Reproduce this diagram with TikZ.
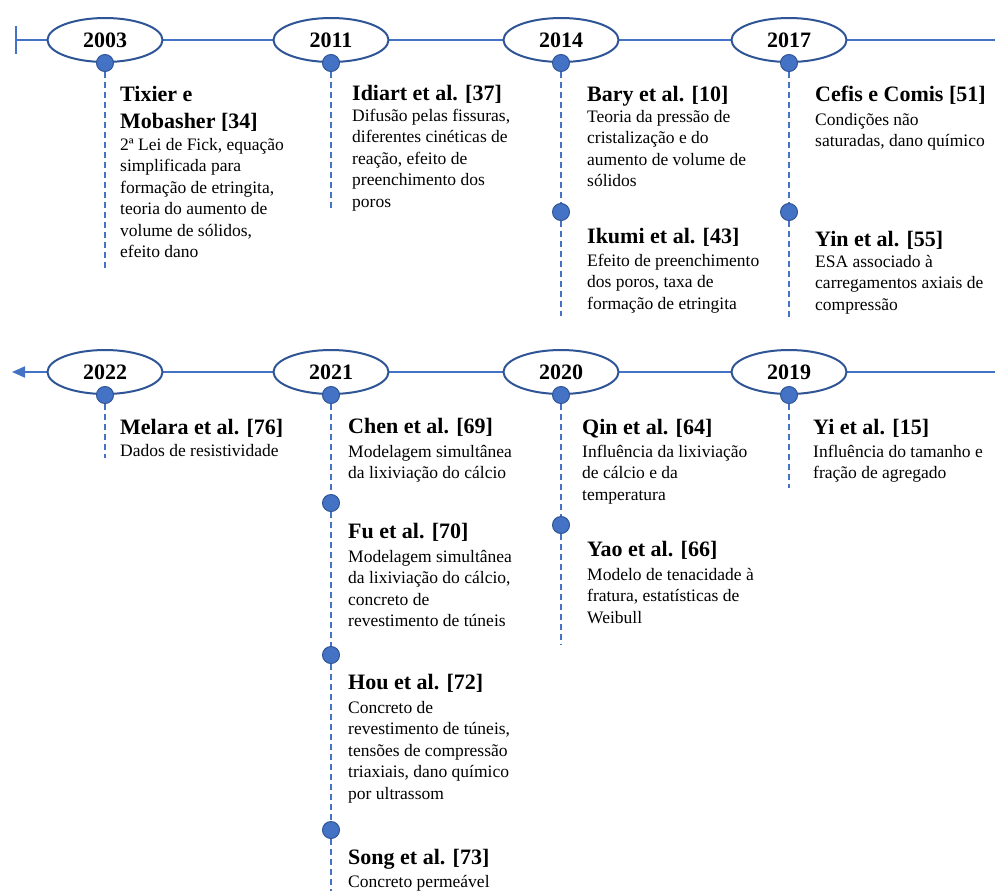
\documentclass[tikz,border=0pt]{standalone}
\usepackage{fontspec}
\setmainfont{Liberation Serif}
\usetikzlibrary{shapes.geometric,arrows.meta}
\definecolor{lineblue}{HTML}{4472C4}
\definecolor{darkblue}{HTML}{2F5597}
\begin{document}
\begin{tikzpicture}[x=1pt,y=-1pt,
  year/.style={ellipse, draw=darkblue, line width=2pt, fill=white, minimum width=115pt, minimum height=44pt, inner sep=0pt, font=\fontsize{22}{26}\selectfont\bfseries},
  axis/.style={lineblue, line width=1.8pt},
  dot/.style={circle, fill=lineblue, draw=darkblue, line width=1pt, minimum size=17pt, inner sep=0pt},
  stem/.style={lineblue, line width=1.6pt, dash pattern=on 6pt off 4pt},
  head/.style={anchor=base west, inner sep=0pt, align=left, font=\fontsize{22}{27}\selectfont\bfseries},
  body/.style={anchor=base west, inner sep=0pt, align=left, font=\fontsize{17.5}{21.5}\selectfont},
]
\useasboundingbox[fill=white] (0,0) rectangle (995,891);

% ---------- Row 1 axis ----------
\coordinate (tickTop) at (16,26);
\coordinate (tickBot) at (16,54);
\coordinate (start1) at (16,40);
\coordinate (end1) at (995,40);
\draw[axis] (tickTop) -- (tickBot);
\draw[axis] (start1) -- (end1);
\node[year] (y2003) at (105,40) {2003};
\node[year] (y2011) at (331,40) {2011};
\node[year] (y2014) at (561,40) {2014};
\node[year] (y2017) at (789,40) {2017};

% ---------- Row 2 axis ----------
\coordinate (start2) at (995,372);
\coordinate (tip2) at (12,372);
\draw[axis, -{Triangle[length=13pt,width=11pt]}] (start2) -- (tip2);
\node[year] (y2022) at (105,372) {2022};
\node[year] (y2021) at (331,372) {2021};
\node[year] (y2020) at (561,372) {2020};
\node[year] (y2019) at (789,372) {2019};

% ---------- dots ----------
\node[dot] (d2003) at (y2003.south) {};
\node[dot] (d2011) at (y2011.south) {};
\node[dot] (d2014) at (y2014.south) {};
\node[dot] (d2014b) at (561,212) {};
\node[dot] (d2017) at (y2017.south) {};
\node[dot] (d2017b) at (789,212) {};
\node[dot] (d2022) at (y2022.south) {};
\node[dot] (d2021) at (y2021.south) {};
\node[dot] (d2021b) at (331,503) {};
\node[dot] (d2021c) at (331,655) {};
\node[dot] (d2021d) at (331,830) {};
\node[dot] (d2020) at (y2020.south) {};
\node[dot] (d2020b) at (561,525) {};
\node[dot] (d2019) at (y2019.south) {};

% ---------- stems ----------
\coordinate (e2003) at (105,268);
\coordinate (e2011) at (331,208);
\coordinate (e2014) at (561,316);
\coordinate (e2017) at (789,318);
\coordinate (e2022) at (105,458);
\coordinate (e2021) at (331,891);
\coordinate (e2020) at (561,645);
\coordinate (e2019) at (789,488);
\draw[stem] (d2003.south) -- (e2003);
\draw[stem] (d2011.south) -- (e2011);
\draw[stem] (d2014.south) -- (d2014b.north);
\draw[stem] (d2014b.south) -- (e2014);
\draw[stem] (d2017.south) -- (d2017b.north);
\draw[stem] (d2017b.south) -- (e2017);
\draw[stem] (d2022.south) -- (e2022);
\draw[stem] (d2021.south) -- (d2021b.north);
\draw[stem] (d2021b.south) -- (d2021c.north);
\draw[stem] (d2021c.south) -- (d2021d.north);
\draw[stem] (d2021d.south) -- (e2021);
\draw[stem] (d2020.south) -- (d2020b.north);
\draw[stem] (d2020b.south) -- (e2020);
\draw[stem] (d2019.south) -- (e2019);

% ---------- texts row 1 (base anchor = baseline of last line) ----------
\node[head] (h2003) at (120,128) {Tixier e\\Mobasher [34]};
\node[body] (t2003) at (120,257.5) {2ª Lei de Fick, equação\\simplificada para\\formação de etringita,\\teoria do aumento de\\volume de sólidos,\\efeito dano};

\node[head] (h2011) at (352,100) {Idiart et al. [37]};
\node[body] (t2011) at (352,207) {Difusão pelas fissuras,\\diferentes cinéticas de\\reação, efeito de\\preenchimento dos\\poros};

\node[head] (h2014) at (587,101) {Bary et al. [10]};
\node[body] (t2014) at (587,186.5) {Teoria da pressão de\\cristalização e do\\aumento de volume de\\sólidos};
\node[head] (h2014b) at (587,243) {Ikumi et al. [43]};
\node[body] (t2014b) at (587,309) {Efeito de preenchimento\\dos poros, taxa de\\formação de etringita};

\node[head] (h2017) at (815,101) {Cefis e Comis [51]};
\node[body] (t2017) at (815,146.5) {Condições não\\saturadas, dano químico};
\node[head] (h2017b) at (815,246) {Yin et al. [55]};
\node[body] (t2017b) at (815,310) {ESA associado à\\carregamentos axiais de\\compressão};

% ---------- texts row 2 ----------
\node[head] (h2022) at (120,434) {Melara et al. [76]};
\node[body] (t2022) at (120,456) {Dados de resistividade};

\node[head] (h2021) at (348,433) {Chen et al. [69]};
\node[body] (t2021) at (348,478.5) {Modelagem simultânea\\da lixiviação do cálcio};
\node[head] (h2021b) at (348,538) {Fu et al. [70]};
\node[body] (t2021b) at (348,626.5) {Modelagem simultânea\\da lixiviação do cálcio,\\concreto de\\revestimento de túneis};
\node[head] (h2021c) at (348,689) {Hou et al. [72]};
\node[body] (t2021c) at (348,799) {Concreto de\\revestimento de túneis,\\tensões de compressão\\triaxiais, dano químico\\por ultrassom};
\node[head] (h2021d) at (348,864) {Song et al. [73]};
\node[body] (t2021d) at (348,887) {Concreto permeável};

\node[head] (h2020) at (582,434) {Qin et al. [64]};
\node[body] (t2020) at (582,500) {Influência da lixiviação\\de cálcio e da\\temperatura};
\node[head] (h2020b) at (587,556) {Yao et al. [66]};
\node[body] (t2020b) at (587,623) {Modelo de tenacidade à\\fratura, estatísticas de\\Weibull};

\node[head] (h2019) at (813,434) {Yi et al. [15]};
\node[body] (t2019) at (813,478.5) {Influência do tamanho e\\fração de agregado};
\end{tikzpicture}
\end{document}
